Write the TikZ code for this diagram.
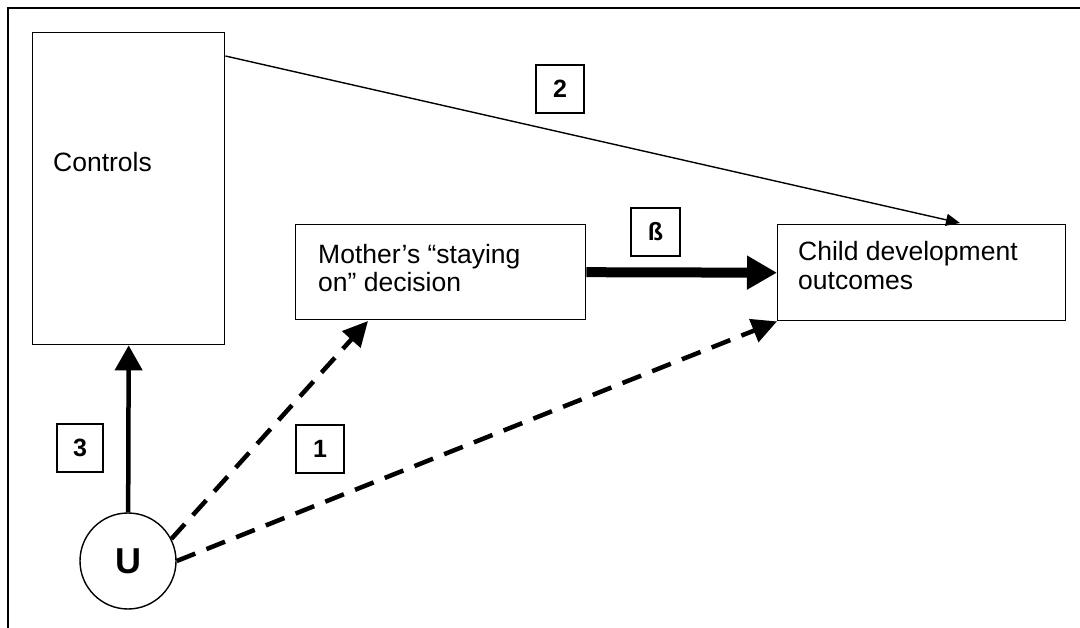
\documentclass[tikz,border=0pt]{standalone}
\usepackage{fontspec}
\setmainfont{Liberation Sans}
\usetikzlibrary{arrows.meta,calc}
\begin{document}
\begin{tikzpicture}[x=1pt,y=-1pt,
  box/.style={draw=black,line width=1.4pt,inner sep=0pt,anchor=north west},
  lbl/.style={draw=black,line width=1.4pt,inner sep=0pt,minimum width=48pt,minimum height=48pt,font=\fontsize{25}{25}\selectfont\bfseries},
  txt/.style={inner sep=0pt,anchor=base west,font=\fontsize{26.5}{28}\selectfont},
  dasharrow/.style={line width=4.5pt,dash pattern=on 20pt off 12pt,-{Triangle[length=25pt,width=24pt]}},
  thin/.style={line width=1.4pt,-{Triangle[length=14pt,width=12pt]}}
]
\useasboundingbox (0,0) rectangle (1080,628);
\draw[line width=1.3pt] (8,628) -- (8,8) -- (1080,8);

% boxes
\node[box,minimum width=192pt,minimum height=312pt] (controls) at (32,32) {};
\node[box,minimum width=290pt,minimum height=95pt] (mother) at (295,224) {};
\node[box,minimum width=288pt,minimum height=96pt] (child) at (777,224) {};
\node[circle,draw=black,line width=1.4pt,minimum size=96pt,inner sep=0pt,font=\fontsize{36}{36}\selectfont\bfseries] (U) at (128,561) {U};

% texts
\node[txt] (tcontrols) at (53,172) {Controls};
\node[txt] (tm1) at (318,264) {Mother’s “staying};
\node[txt] (tm2) at (318,292) {on” decision};
\node[txt] (tc1) at (798,261) {Child development};
\node[txt] (tc2) at (798,290) {outcomes};

% labels
\node[lbl] (l2) at (560,89) {2};
\node[lbl] (l1) at (320,449) {1};
\node[lbl,minimum width=46pt] (l3) at (80,448) {3};
\node[lbl,minimum width=49pt,font=\fontsize{25}{25}\selectfont\bfseries] (lb) at (655.5,232) {\raisebox{-6pt}{ß}};

% connectors
\coordinate (mtip) at (368,321);
\coordinate (ctip) at (960,223);
\draw[thin] ([yshift=-24pt]controls.north east) -- (ctip);
\draw[line width=10pt,-{Triangle[length=30pt,width=32pt]}] (mother.east) -- (child.west);
\draw[line width=4.5pt,-{Triangle[length=25pt,width=27pt]}] (U) -- (controls.south);
\draw[dasharrow] (U.27) -- (mtip);
\draw[dasharrow] (U.east) -- (child.south west);
\end{tikzpicture}
\end{document}
